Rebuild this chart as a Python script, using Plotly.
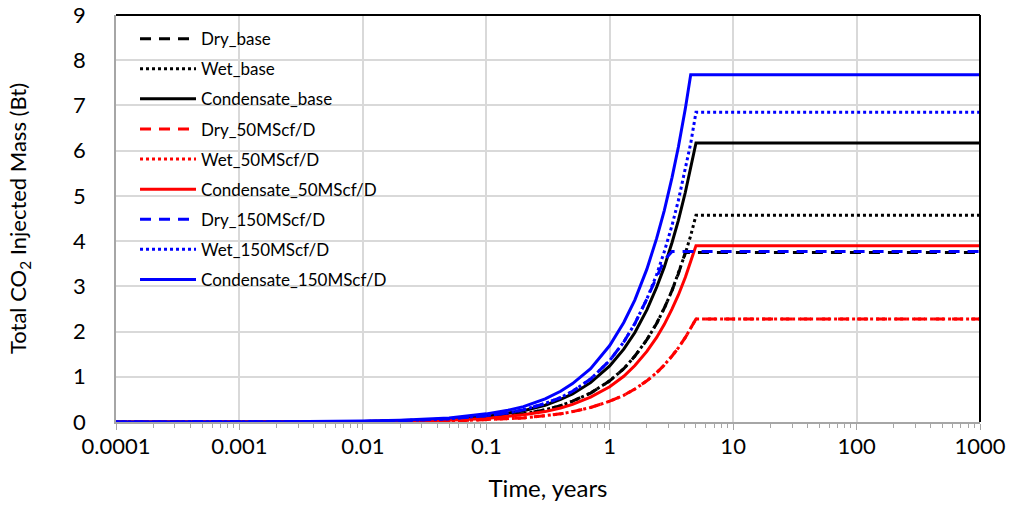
import plotly.graph_objects as go

# Time grid (years)
time_years = [0.0001, 0.001, 0.01, 0.02, 0.05, 0.1, 0.15, 0.2, 0.3, 0.4, 0.5, 0.7, 1.0,
              1.3, 1.6, 2.0, 2.4, 2.77, 3.2, 3.6, 4.1, 4.53, 5.0, 10, 100, 1000]

dry_base = [0.0, 0.0, 0.01, 0.02, 0.05, 0.09, 0.14, 0.18, 0.27, 0.36, 0.46, 0.64, 0.91,
            1.18, 1.46, 1.82, 2.18, 2.52, 2.91, 3.28, 3.75, 3.75, 3.75, 3.75, 3.75, 3.75]
wet_base = [0.0, 0.0, 0.01, 0.02, 0.05, 0.09, 0.14, 0.18, 0.27, 0.36, 0.46, 0.64, 0.91,
            1.18, 1.46, 1.82, 2.18, 2.52, 2.91, 3.28, 3.73, 4.12, 4.57, 4.57, 4.57, 4.57]
cond_base = [0.0, 0.0, 0.01, 0.02, 0.06, 0.12, 0.19, 0.25, 0.37, 0.5, 0.62, 0.87, 1.24,
             1.61, 1.98, 2.48, 2.98, 3.43, 3.97, 4.46, 5.08, 5.62, 6.17, 6.17, 6.17, 6.17]
dry_50 = [0.0, 0.0, 0.0, 0.01, 0.02, 0.05, 0.07, 0.09, 0.14, 0.18, 0.23, 0.32, 0.46,
          0.59, 0.73, 0.91, 1.09, 1.26, 1.46, 1.64, 1.87, 2.07, 2.28, 2.28, 2.28, 2.28]
wet_50 = [0.0, 0.0, 0.0, 0.01, 0.02, 0.05, 0.07, 0.09, 0.14, 0.18, 0.23, 0.32, 0.46,
          0.59, 0.73, 0.91, 1.09, 1.26, 1.46, 1.64, 1.87, 2.07, 2.28, 2.28, 2.28, 2.28]
cond_50 = [0.0, 0.0, 0.01, 0.02, 0.04, 0.08, 0.12, 0.16, 0.23, 0.31, 0.39, 0.55, 0.78,
           1.01, 1.25, 1.56, 1.87, 2.16, 2.5, 2.81, 3.2, 3.53, 3.9, 3.9, 3.9, 3.9]
dry_150 = [0.0, 0.0, 0.01, 0.03, 0.07, 0.14, 0.2, 0.27, 0.41, 0.54, 0.68, 0.95, 1.36,
           1.77, 2.18, 2.72, 3.2, 3.58, 3.77, 3.77, 3.77, 3.77, 3.77, 3.77, 3.77, 3.77]
wet_150 = [0.0, 0.0, 0.01, 0.03, 0.07, 0.14, 0.2, 0.27, 0.41, 0.54, 0.68, 0.95, 1.36,
           1.77, 2.18, 2.72, 3.26, 3.77, 4.35, 4.9, 5.58, 6.16, 6.85, 6.85, 6.85, 6.85]
cond_150 = [0.0, 0.0, 0.02, 0.04, 0.09, 0.18, 0.26, 0.34, 0.51, 0.68, 0.85, 1.18, 1.69,
            2.2, 2.7, 3.38, 4.06, 4.68, 5.41, 6.08, 6.93, 7.68, 7.68, 7.68, 7.68, 7.68]

x_tick_vals = [0.0001, 0.001, 0.01, 0.1, 1, 10, 100, 1000]
x_tick_text = ["0.0001", "0.001", "0.01", "0.1", "1", "10", "100", "1000"]

series = [
    ("Dry_base", dry_base, "#000000", "11px,8px"),
    ("Wet_base", wet_base, "#000000", "3px,3px"),
    ("Condensate_base", cond_base, "#000000", "solid"),
    ("Dry_50MScf/D", dry_50, "#ff0000", "11px,8px"),
    ("Wet_50MScf/D", wet_50, "#ff0000", "3px,3px"),
    ("Condensate_50MScf/D", cond_50, "#ff0000", "solid"),
    ("Dry_150MScf/D", dry_150, "#0000ff", "11px,8px"),
    ("Wet_150MScf/D", wet_150, "#0000ff", "3px,3px"),
    ("Condensate_150MScf/D", cond_150, "#0000ff", "solid"),
]

FONT = "Lato"
fig = go.Figure()
for name, vals, color, dash in series:
    fig.add_trace(go.Scatter(
        x=time_years, y=vals, name=name, mode="lines",
        line=dict(color=color, width=3, dash=dash),
        legendgroup=name, cliponaxis=False,
    ))

fig.update_layout(
    width=1009, height=509,
    margin=dict(l=116, r=29, t=15, b=87),
    paper_bgcolor="white", plot_bgcolor="white",
    font=dict(family=FONT, size=22, color="black"),
    showlegend=True,
    legend=dict(
        x=0.022, y=0.985, xanchor="left", yanchor="top",
        bgcolor="rgba(255,255,255,0)", borderwidth=0,
        font=dict(family=FONT, size=17, color="black"),
        traceorder="grouped", tracegroupgap=5, itemwidth=56,
    ),
    xaxis=dict(
        type="log", range=[-4, 3], automargin=False,
        tickvals=x_tick_vals, ticktext=x_tick_text,
        showgrid=True, gridcolor="#d9d9d9", gridwidth=1.5,
        showline=True, linecolor="#a6a6a6", linewidth=1.5,
        ticks="outside", ticklen=6, tickcolor="#a6a6a6",
        minor=dict(ticks="outside", ticklen=4, tickcolor="#a6a6a6",
                   dtick="D1", showgrid=False),
        tickfont=dict(size=22), ticklabelstandoff=-2,
        title=dict(text="Time, years", font=dict(size=24), standoff=22),
        zeroline=False,
    ),
    yaxis=dict(
        range=[0, 9], dtick=1, automargin=False,
        showgrid=True, gridcolor="#d9d9d9", gridwidth=1.5,
        showline=True, linecolor="#a6a6a6", linewidth=1.5,
        ticks="", ticklabelstandoff=24,
        tickfont=dict(size=22),
        title=dict(text="Total CO<sub>2</sub> Injected Mass (Bt)", font=dict(size=22), standoff=40),
        zeroline=False,
    ),
    shapes=[
        dict(type="line", xref="paper", yref="paper", x0=0, x1=1, y0=1, y1=1,
             line=dict(color="#000000", width=2)),
        dict(type="line", xref="paper", yref="paper", x0=1, x1=1, y0=0, y1=1,
             line=dict(color="#000000", width=2)),
    ],
)

fig.write_html("out.html")
